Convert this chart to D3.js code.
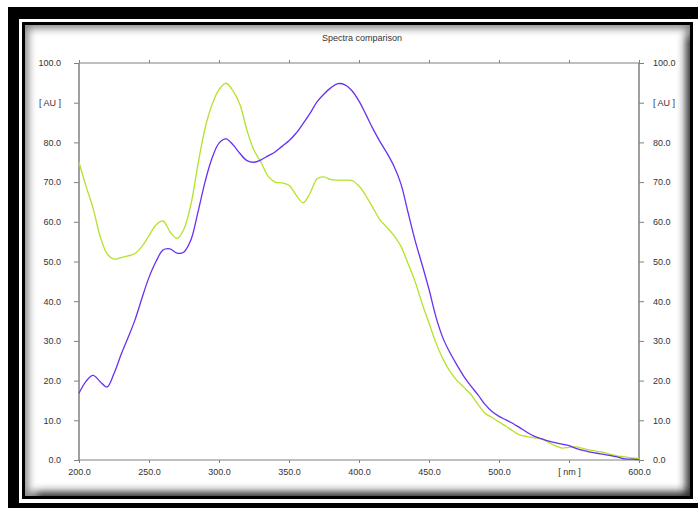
<!DOCTYPE html>
<html>
<head>
<meta charset="utf-8">
<script src="https://cdn.jsdelivr.net/npm/d3@7"></script>
<style>
  html, body { margin: 0; padding: 0; background: #fff; }
  svg { display: block; }
  text { font-family: "Liberation Sans", Arial, sans-serif; font-size: 9px; fill: #333; }
</style>
</head>
<body>
<svg id="chart" width="698" height="508"></svg>
<script>
// Wavelength grid (nm) and absorbance of the two spectra (AU)
const wavelengths = [200,205,210,215,220,225,230,235,240,245,250,255,260,265,270,275,280,285,290,295,
  300,305,310,315,320,325,330,335,340,345,350,355,360,365,370,375,380,385,390,395,
  400,405,410,415,420,425,430,435,440,445,450,455,460,465,470,475,480,485,490,495,
  500,505,510,515,520,525,530,535,540,545,550,555,560,565,570,575,580,585,590,595,600];

const spectrumGreen = [75.0,69.0,63.5,56.5,52.0,50.6,51.0,51.4,52.0,53.8,56.5,59.2,60.2,57.5,55.8,58.2,64.5,74.5,83.5,89.5,
  93.3,94.9,93.0,89.5,83.0,78.0,75.0,71.5,70.0,69.8,69.2,66.8,64.8,67.2,70.8,71.3,70.6,70.5,70.5,70.4,
  69.0,66.5,63.5,60.5,58.6,56.5,53.8,49.5,45.0,39.5,34.5,29.5,25.4,22.3,20.0,18.3,16.5,14.0,11.8,10.7,
  9.6,8.5,7.3,6.3,5.9,5.6,5.3,4.5,3.6,3.0,3.2,3.3,2.9,2.5,2.2,1.9,1.4,1.0,0.8,0.5,0.4];

const spectrumPurple = [16.8,19.8,21.3,19.8,18.4,21.8,26.5,30.8,35.3,40.8,46.0,50.0,52.9,53.2,52.1,52.4,55.5,62.5,70.0,76.0,
  79.8,80.9,79.4,77.2,75.4,75.0,75.6,76.6,77.6,79.0,80.4,82.3,84.7,87.3,90.2,92.2,93.8,94.8,94.5,93.0,
  90.4,87.0,83.4,80.2,77.3,74.0,69.5,62.4,55.4,49.3,43.0,36.0,30.7,27.0,23.9,21.0,18.6,16.4,14.0,12.2,
  11.0,10.1,9.2,8.1,7.0,6.0,5.4,4.8,4.4,4.0,3.6,2.9,2.4,2.0,1.7,1.4,1.1,0.7,0.3,0.2,0.1];

// Axis ticks and their labels
const xTicks = [200,250,300,350,400,450,500,550,600];
const xTickLabels = ["200.0","250.0","300.0","350.0","400.0","450.0","500.0","[ nm ]","600.0"];
const yTicks = [0,10,20,30,40,50,60,70,80,90,100];
const yTickLabels = ["0.0","10.0","20.0","30.0","40.0","50.0","60.0","70.0","80.0","[ AU ]","100.0"];

const title = "Spectra comparison";

const svg = d3.select("#chart");
const defs = svg.append("defs");

// ---- Framed panel ----
svg.append("rect").attr("x", 8).attr("y", 7).attr("width", 700).attr("height", 510).attr("fill", "#000");
svg.append("rect").attr("x", 19).attr("y", 19).attr("width", 690).attr("height", 484).attr("fill", "#fff");
svg.append("rect").attr("x", 22).attr("y", 22).attr("width", 671).attr("height", 477).attr("fill", "#000");

const panel = { x: 25, y: 25, w: 665, h: 471 };
defs.append("clipPath").attr("id", "panelClip")
  .append("rect").attr("x", panel.x).attr("y", panel.y).attr("width", panel.w).attr("height", panel.h);
const blur = defs.append("filter").attr("id", "soft").attr("x", "-10%").attr("y", "-10%").attr("width", "120%").attr("height", "120%");
blur.append("feGaussianBlur").attr("stdDeviation", 4);

svg.append("rect").attr("x", panel.x).attr("y", panel.y).attr("width", panel.w).attr("height", panel.h).attr("fill", "#fff");
const shade = svg.append("g").attr("clip-path", "url(#panelClip)");
const shadeInner = shade.append("g").attr("filter", "url(#soft)");
shadeInner.append("rect")
  .attr("x", panel.x - 2).attr("y", panel.y - 2).attr("width", panel.w + 4).attr("height", panel.h + 4)
  .attr("fill", "none").attr("stroke", "#7a7a7a").attr("stroke-width", 10);
// darker falloff along the right and bottom edges
shadeInner.append("path")
  .attr("d", `M${panel.x + panel.w + 2},${panel.y + 10}V${panel.y + panel.h + 2}H${panel.x + 10}`)
  .attr("fill", "none").attr("stroke", "#222").attr("stroke-width", 12);

// ---- Scales ----
const x = d3.scaleLinear().domain([200, 600]).range([79, 639]);
const y = d3.scaleLinear().domain([0, 100]).range([460, 63]);

const axisColor = "#808080";

// plot frame lines (left, top, right, bottom)
const frame = svg.append("g").attr("stroke", axisColor).attr("fill", "none");
frame.append("line").attr("x1", x(200)).attr("x2", x(200)).attr("y1", y(0)).attr("y2", y(100)).attr("stroke-width", 1.5);
frame.append("line").attr("x1", x(600)).attr("x2", x(600)).attr("y1", y(0)).attr("y2", y(100)).attr("stroke-width", 1.5);
frame.append("line").attr("x1", x(200)).attr("x2", x(600)).attr("y1", y(100)).attr("y2", y(100)).attr("stroke-width", 1);
frame.append("line").attr("x1", x(200)).attr("x2", x(600)).attr("y1", y(0)).attr("y2", y(0)).attr("stroke-width", 1);

function styleAxis(g) {
  g.select(".domain").remove();
  g.selectAll(".tick line").attr("stroke", axisColor);
  g.selectAll(".tick text").attr("fill", "#333").attr("font-size", 9)
    .attr("font-family", "'Liberation Sans', Arial, sans-serif");
}

svg.append("g").attr("transform", `translate(${x(200)},0)`)
  .call(d3.axisLeft(y).tickValues(yTicks).tickSize(5).tickPadding(13)
    .tickFormat((d, i) => yTickLabels[i]))
  .call(styleAxis);

svg.append("g").attr("transform", `translate(${x(600)},0)`)
  .call(d3.axisRight(y).tickValues(yTicks).tickSize(5).tickPadding(9)
    .tickFormat((d, i) => yTickLabels[i]))
  .call(styleAxis);

svg.append("g").attr("transform", `translate(0,${y(0)})`)
  .call(d3.axisBottom(x).tickValues(xTicks).tickSize(3).tickPadding(6)
    .tickFormat((d, i) => xTickLabels[i]))
  .call(styleAxis);

svg.append("g").attr("transform", `translate(0,${y(100)})`)
  .call(d3.axisTop(x).tickValues(xTicks).tickSize(3).tickFormat(""))
  .call(styleAxis);

// ---- Title ----
svg.append("text").attr("x", 362).attr("y", 41).attr("text-anchor", "middle").text(title);

// ---- Spectra ----
const line = d3.line()
  .x((d, i) => x(wavelengths[i]))
  .y(d => y(d))
  .curve(d3.curveCatmullRom.alpha(0.5));

svg.append("path").datum(spectrumGreen)
  .attr("d", line).attr("fill", "none").attr("stroke", "#b4e22a").attr("stroke-width", 1.3);

svg.append("path").datum(spectrumPurple)
  .attr("d", line).attr("fill", "none").attr("stroke", "#6a30f0").attr("stroke-width", 1.3);
</script>
</body>
</html>
